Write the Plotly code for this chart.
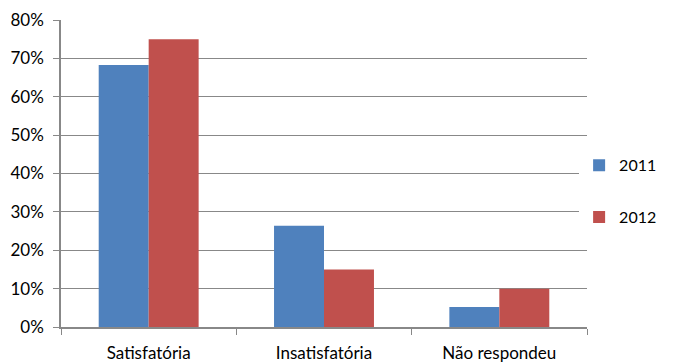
import plotly.graph_objects as go

categories = ["Satisfatória", "Insatisfatória", "Não respondeu"]
values_2011 = [0.683, 0.264, 0.052]
values_2012 = [0.750, 0.150, 0.100]
y_ticks = [0, 0.1, 0.2, 0.3, 0.4, 0.5, 0.6, 0.7, 0.8]

fig = go.Figure()
fig.add_trace(go.Bar(x=categories, y=values_2011, name="2011",
                     marker=dict(color="#4F81BD", line=dict(width=0)), legendgroup="a"))
fig.add_trace(go.Bar(x=categories, y=values_2012, name="2012",
                     marker=dict(color="#C0504D", line=dict(width=0)), legendgroup="b"))

fig.update_layout(
    width=674, height=363,
    margin=dict(l=61, r=87, t=20, b=36),
    paper_bgcolor="white", plot_bgcolor="white",
    font=dict(family="Lato, Open Sans, sans-serif", size=17, color="#000"),
    barmode="group", bargap=0.43, bargroupgap=0,
    legend=dict(x=0.985, y=0.442, xanchor="left", yanchor="middle",
                tracegroupgap=28, font=dict(size=16), itemwidth=30),
    showlegend=True,
)
fig.update_xaxes(
    automargin=False,
    showline=True, linecolor="#888", linewidth=1.5,
    ticks="outside", tickson="boundaries", ticklen=6, tickcolor="#888",
    ticklabelstandoff=10, showgrid=False,
)
fig.update_yaxes(
    automargin=False,
    range=[0, 0.8], tickvals=y_ticks, tickformat=".0%",
    showline=True, linecolor="#888", linewidth=1.5,
    ticks="outside", ticklen=6, tickcolor="#888", ticklabelstandoff=6,
    showgrid=True, gridcolor="#888", gridwidth=1, zeroline=False,
)

# drop the page's default 8px body margin so the figure sits at the window's corner
fig.write_html("out.html", config={"displayModeBar": False},
               post_script="document.body.style.margin='0px';")
